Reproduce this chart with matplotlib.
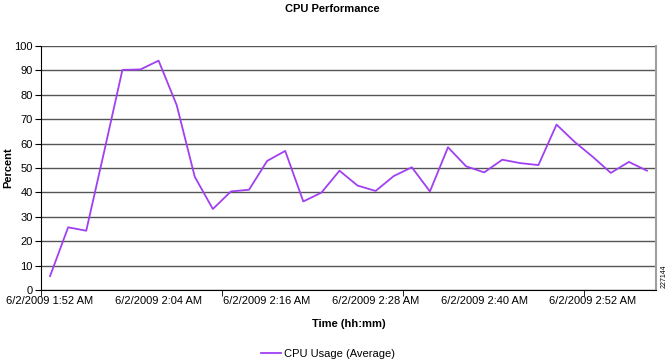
import matplotlib
matplotlib.use('Agg')
import matplotlib.pyplot as plt

plt.rcParams['font.family'] = ['Liberation Sans', 'DejaVu Sans']

# one sample every 2 minutes, 6/2/2009
times = ['1:52', '1:54', '1:56', '1:58', '2:00', '2:02', '2:04', '2:06', '2:08',
         '2:10', '2:12', '2:14', '2:16', '2:18', '2:20', '2:22', '2:24', '2:26',
         '2:28', '2:30', '2:32', '2:34', '2:36', '2:38', '2:40', '2:42', '2:44',
         '2:46', '2:48', '2:50', '2:52', '2:54', '2:56', '2:58']
cpu_avg = [5.7, 25.7, 24.3, 57.0, 90.2, 90.4, 94.0, 75.8, 46.4, 33.2,
           40.4, 41.1, 52.9, 57.0, 36.3, 39.9, 48.9, 42.8, 40.6, 46.7,
           50.3, 40.4, 58.5, 50.7, 48.2, 53.4, 52.0, 51.2, 67.8, 60.7,
           54.6, 48.0, 52.5, 48.9]
label_every = 6
tickmark_every = 10

fig = plt.figure(figsize=(6.69, 3.6), dpi=100)
ax = fig.add_axes([0.0613, 0.1944, 0.9193, 0.6778])

x = list(range(len(cpu_avg)))
ax.plot(x, cpu_avg, color='#a040f0', lw=1.3, label='CPU Usage (Average)')

ax.set_xlim(-0.5, len(cpu_avg) - 0.5)
ax.set_ylim(0, 100)
ax.set_yticks(range(0, 101, 10))
ax.yaxis.grid(True, color='#555555', lw=1)
ax.set_axisbelow(True)

lab_pos = x[::label_every]
ax.set_xticks(lab_pos)
ax.set_xticklabels(['6/2/2009 %s AM' % times[i] for i in lab_pos])
ax.set_xticks([i - 0.5 for i in range(0, len(cpu_avg) + 1, tickmark_every)], minor=True)
ax.tick_params(axis='x', which='major', length=0, pad=4, labelsize=8)
ax.tick_params(axis='x', which='minor', length=4, color='black')
ax.tick_params(axis='y', length=4, labelsize=8, pad=2)

ax.spines['top'].set_visible(False)
ax.spines['right'].set_color('#a0a0a0')
ax.spines['right'].set_linewidth(1.5)

fig.text(0.496, 0.975, 'CPU Performance', fontsize=8, fontweight='bold',
         ha='center', va='center')
ax.set_xlabel('Time (hh:mm)', fontsize=8, fontweight='bold', labelpad=10)
ax.set_ylabel('Percent', fontsize=8, fontweight='bold', va='center')
ax.yaxis.set_label_coords(-0.053, 0.5)

fig.legend(loc='lower center', bbox_to_anchor=(0.49, -0.025), frameon=False,
           fontsize=8, handlelength=1.8, handletextpad=0.3)
fig.text(0.993, 0.2, '227144', rotation=90, fontsize=5, ha='center', va='bottom')

fig.savefig('out.png', dpi=100)
